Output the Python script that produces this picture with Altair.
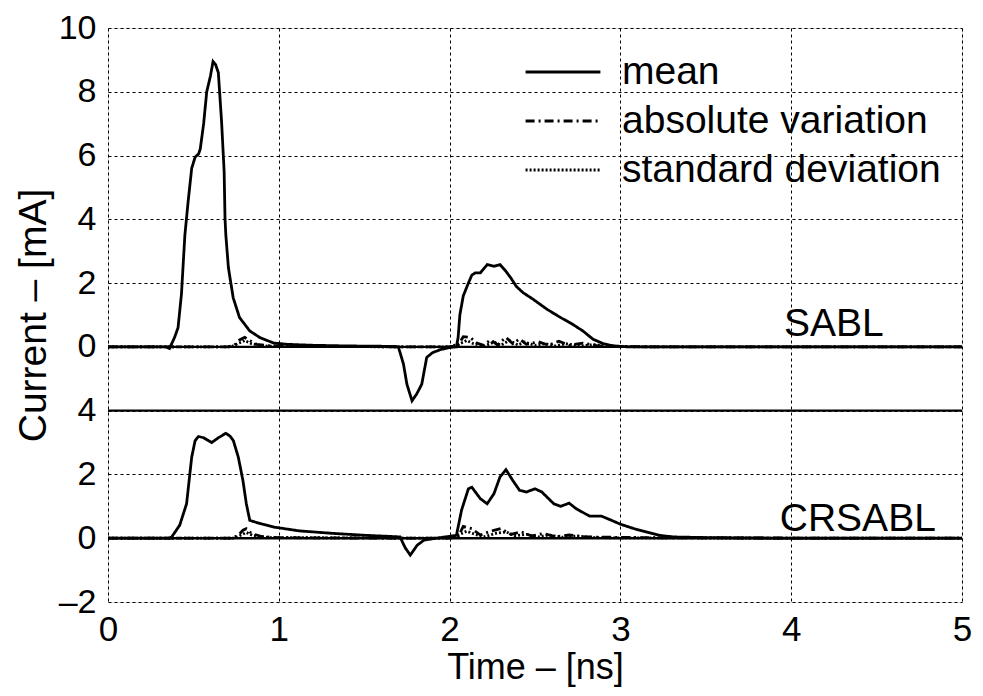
import altair as alt
import pandas as pd

FONT = "Liberation Sans"
OFFSET_SABL = 6  # top panel is drawn shifted up by 6 units

# ---- SABL (top panel) ----
sabl_mean_t = [0, 0.34, 0.36, 0.39, 0.41, 0.43, 0.45, 0.47, 0.49, 0.51, 0.53, 0.54, 0.56, 0.578, 0.60, 0.615,
               0.63, 0.646, 0.665, 0.68, 0.685, 0.69, 0.705, 0.733, 0.77, 0.83, 0.89, 0.97, 1.05, 1.2, 1.4,
               1.6, 1.70, 1.73, 1.75, 1.78, 1.807, 1.837, 1.866, 1.9, 1.95, 2.0, 2.04, 2.05, 2.06, 2.08, 2.11,
               2.13, 2.15, 2.18, 2.20, 2.22, 2.26, 2.295, 2.33, 2.36, 2.39, 2.43, 2.49, 2.57, 2.65, 2.72,
               2.78, 2.84, 2.90, 2.96, 3.05, 5.0]
sabl_mean_v = [0, 0, -0.05, 0.3, 0.6, 1.65, 3.5, 4.6, 5.6, 5.95, 6.05, 6.2, 7.0, 8.0, 8.5, 8.95,
               8.85, 8.6, 7.06, 5.5, 4.04, 3.5, 2.48, 1.54, 0.92, 0.5, 0.29, 0.12, 0.08, 0.05, 0.03,
               0.02, 0, -0.54, -1.17, -1.69, -1.48, -1.17, -0.33, -0.18, -0.08, -0.02, 0, 0.3, 1.0, 1.6, 2.0,
               2.25, 2.32, 2.32, 2.45, 2.58, 2.53, 2.58, 2.37, 2.15, 1.9, 1.7, 1.49, 1.18, 0.92, 0.71,
               0.5, 0.24, 0.1, 0.03, 0, 0]

sabl_absvar_t = [0, 0.70, 0.74, 0.77, 0.80, 0.83, 0.87, 0.95, 1.2, 2.0, 2.05, 2.08, 2.12, 2.16, 2.2, 2.24,
                 2.28, 2.33, 2.37, 2.41, 2.45, 2.52, 2.58, 2.64, 2.7, 2.78, 2.86, 2.95, 3.2, 5.0]
sabl_absvar_v = [0, 0, 0.05, 0.22, 0.3, 0.2, 0.08, 0.03, 0.01, 0, 0.05, 0.32, 0.3, 0.12, 0.05, 0.22,
                 0.06, 0.3, 0.1, 0.25, 0.08, 0.16, 0.05, 0.18, 0.05, 0.12, 0.04, 0.02, 0, 0]

sabl_std_t = [0, 0.72, 0.76, 0.80, 0.84, 0.9, 1.1, 2.0, 2.06, 2.1, 2.14, 2.2, 2.26, 2.3, 2.35, 2.4,
              2.44, 2.5, 2.56, 2.62, 2.68, 2.76, 2.84, 2.95, 3.2, 5.0]
sabl_std_v = [0, 0, 0.1, 0.2, 0.1, 0.03, 0.01, 0, 0.1, 0.2, 0.1, 0.02, 0.15, 0.05, 0.2, 0.06,
              0.15, 0.05, 0.1, 0.03, 0.1, 0.03, 0.07, 0.01, 0, 0]

# ---- CRSABL (bottom panel) ----
cr_mean_t = [0, 0.36, 0.373, 0.42, 0.46, 0.49, 0.51, 0.53, 0.56, 0.607, 0.646, 0.69, 0.715, 0.734, 0.763,
             0.79, 0.81, 0.83, 0.89, 0.97, 1.12, 1.32, 1.51, 1.68, 1.71, 1.74, 1.77, 1.81, 1.85, 1.92, 2.04,
             2.07, 2.11, 2.13, 2.18, 2.22, 2.26, 2.295, 2.33, 2.37, 2.41, 2.45, 2.50, 2.54, 2.61, 2.65, 2.70,
             2.74, 2.82, 2.89, 2.94, 3.0, 3.08, 3.15, 3.23, 3.31, 3.5, 4.0, 5.0]
cr_mean_v = [0, 0, 0.04, 0.41, 1.08, 2.54, 3.06, 3.19, 3.15, 3.0, 3.15, 3.29, 3.2, 3.06, 2.54,
             1.81, 1.08, 0.56, 0.46, 0.35, 0.23, 0.15, 0.09, 0.05, 0.04, -0.3, -0.53, -0.22, -0.06, 0, 0.09,
             0.88, 1.55, 1.6, 1.24, 1.08, 1.4, 1.92, 2.15, 1.81, 1.5, 1.45, 1.55, 1.45, 1.08, 1.0, 1.1,
             0.93, 0.69, 0.69, 0.58, 0.44, 0.3, 0.2, 0.09, 0.04, 0.02, 0, 0]

cr_absvar_t = [0, 0.72, 0.76, 0.79, 0.81, 0.84, 0.9, 1.0, 1.2, 2.0, 2.05, 2.08, 2.13, 2.18, 2.24, 2.3,
               2.36, 2.42, 2.48, 2.55, 2.62, 2.7, 2.8, 2.95, 3.3, 5.0]
cr_absvar_v = [0, 0, 0.08, 0.25, 0.3, 0.15, 0.05, 0.02, 0.01, 0, 0.05, 0.37, 0.3, 0.1, 0.22, 0.3,
               0.12, 0.2, 0.07, 0.15, 0.05, 0.1, 0.04, 0.03, 0.01, 0]

cr_std_t = [0, 0.74, 0.78, 0.81, 0.85, 0.95, 2.0, 2.06, 2.1, 2.15, 2.2, 2.27, 2.33, 2.38, 2.45, 2.52,
            2.58, 2.66, 2.74, 2.85, 3.0, 5.0]
cr_std_v = [0, 0, 0.1, 0.18, 0.08, 0.02, 0, 0.12, 0.22, 0.12, 0.04, 0.15, 0.2, 0.08, 0.12, 0.04,
            0.1, 0.03, 0.07, 0.02, 0.01, 0]

series_names = ["mean", "absolute variation", "standard deviation"]

# panel labels
panel_names = ["SABL", "CRSABL"]
panel_label_t = [4.25, 4.39]
panel_label_v = [0.72, 0.6]

x_ticks = [0, 1, 2, 3, 4, 5]
y_ticks = [-2, 0, 2, 4, 6, 8, 10, 12, 14, 16]
ref_lines = [0, 4, 6]

rows = []
def add(panel, series, ts, vs):
    for i, (t, v) in enumerate(zip(ts, vs)):
        rows.append({"panel": panel, "series": series, "t": t, "v": v, "order": i})

add("SABL", "mean", sabl_mean_t, sabl_mean_v)
add("SABL", "absolute variation", sabl_absvar_t, sabl_absvar_v)
add("SABL", "standard deviation", sabl_std_t, sabl_std_v)
add("CRSABL", "mean", cr_mean_t, cr_mean_v)
add("CRSABL", "absolute variation", cr_absvar_t, cr_absvar_v)
add("CRSABL", "standard deviation", cr_std_t, cr_std_v)
df = pd.DataFrame(rows)

lbl = pd.DataFrame({"panel": panel_names, "t": panel_label_t, "v": panel_label_v})
refs = pd.DataFrame({"y": ref_lines})

shift = f"datum.v + (datum.panel == 'SABL' ? {OFFSET_SABL} : 0)"

xscale = alt.Scale(domain=[0, 5], nice=False)
yscale = alt.Scale(domain=[-2, 16], nice=False, zero=False)

label_expr = ("(datum.value > 4 ? datum.value - 6 : datum.value) < 0 ? "
              "'\u2013' + abs(datum.value) : '' + (datum.value > 4 ? datum.value - 6 : datum.value)")

xaxis = alt.Axis(values=x_ticks, format="d", title="Time \u2013 [ns]", grid=True, gridDash=[3, 3],
                 gridColor="black", gridWidth=1, gridOpacity=1, ticks=False, domain=False,
                 labelFontSize=35, titleFontSize=36, labelFont=FONT, titleFont=FONT,
                 labelColor="black", titleColor="black", labelPadding=10, titlePadding=3,
                 titleFontWeight="normal", labelFlush=False)
yaxis = alt.Axis(values=y_ticks, title="Current \u2013 [mA]", grid=True, gridDash=[3, 3],
                 gridColor="black", gridWidth=1, gridOpacity=1, ticks=False, domain=False,
                 labelFontSize=34, titleFontSize=39, labelFont=FONT, titleFont=FONT,
                 labelColor="black", titleColor="black", labelPadding=12, titlePadding=5,
                 titleFontWeight="normal", labelExpr=label_expr, labelFlush=False)

lines = alt.Chart(df).transform_calculate(y=shift).mark_line(color="black", strokeWidth=2.8).encode(
    x=alt.X("t:Q", scale=xscale, axis=xaxis),
    y=alt.Y("y:Q", scale=yscale, axis=yaxis),
    detail="panel:N",
    order="order:Q",
    strokeDash=alt.StrokeDash(
        "series:N",
        scale=alt.Scale(domain=series_names, range=[[1, 0], [9, 4, 2, 4], [2, 2]]),
        legend=alt.Legend(title=None, orient="none", legendX=416, legendY=24,
                          symbolType="stroke", symbolSize=5600, symbolStrokeWidth=2.8,
                          symbolStrokeColor="black", labelFontSize=39, labelFont=FONT,
                          labelColor="black", labelOffset=20, rowPadding=9,
                          clipHeight=40, labelLimit=0),
    ),
)

rules = alt.Chart(refs).mark_rule(color="black", strokeWidth=2.4).encode(
    y=alt.Y("y:Q", scale=yscale)
)

texts = alt.Chart(lbl).transform_calculate(y=shift).mark_text(
    font=FONT, fontSize=39, color="black", align="center", baseline="middle"
).encode(
    x=alt.X("t:Q", scale=xscale),
    y=alt.Y("y:Q", scale=yscale),
    text="panel:N",
)

chart = alt.layer(rules, lines, texts).properties(
    width=854, height=574,
    autosize=alt.AutoSizeParams(type="none"),
    padding={"left": 100, "top": 20, "right": 10, "bottom": 86},
).configure_view(stroke="black", strokeWidth=2).configure(background="white")

chart.save("out.html", embed_options={"renderer": "svg", "actions": False})
